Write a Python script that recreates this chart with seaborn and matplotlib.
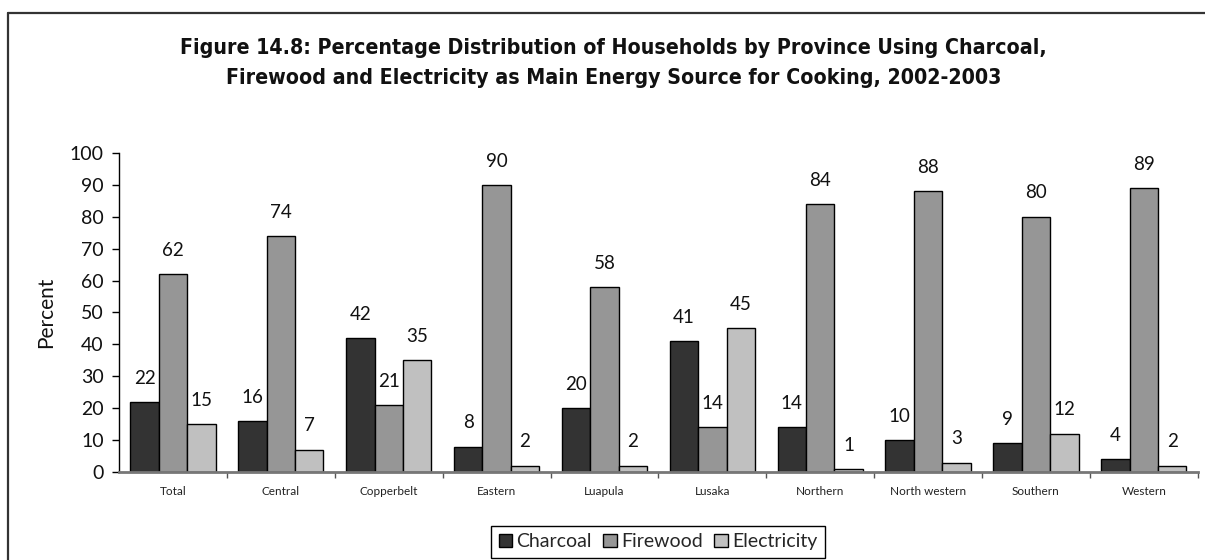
import matplotlib
matplotlib.use("Agg")
import matplotlib.pyplot as plt
from matplotlib.lines import Line2D
import pandas as pd
import seaborn as sns

provinces = ["Total", "Central", "Copperbelt", "Eastern", "Luapula", "Lusaka",
             "Northern", "North western", "Southern", "Western"]
charcoal = [22, 16, 42, 8, 20, 41, 14, 10, 9, 4]
firewood = [62, 74, 21, 90, 58, 14, 84, 88, 80, 89]
electricity = [15, 7, 35, 2, 2, 45, 1, 3, 12, 2]
sources = ["Charcoal", "Firewood", "Electricity"]
colors = ["#333333", "#969696", "#c0c0c0"]

df = pd.DataFrame({
    "Province": provinces * 3,
    "Source": [s for s in sources for _ in provinces],
    "Percent": charcoal + firewood + electricity,
})

sns.set_theme(style="white")
plt.rcParams["font.family"] = ["Lato", "DejaVu Sans"]

fig = plt.figure(figsize=(12.05, 5.6), dpi=100)
ax = fig.add_axes([0.0988, 0.157, 0.8952, 0.570])

sns.barplot(data=df, x="Province", y="Percent", hue="Source", order=provinces,
            hue_order=sources, palette=colors, edgecolor="black", linewidth=1.0,
            width=0.79, gap=0, saturation=1, ax=ax, legend=True)

for cont in ax.containers:
    ax.bar_label(cont, fmt="%d", padding=11, fontsize=13.5, color="#111111")

ax.set_xlim(-0.5, len(provinces) - 0.5)
ax.set_ylim(0, 100)
ax.set_yticks(range(0, 101, 10))
ax.tick_params(axis="y", labelsize=14, direction="out", length=5, width=1,
               color="black", left=True, pad=6, labelcolor="#111111")
ax.tick_params(axis="x", which="major", labelsize=8.5, length=0, pad=10,
               labelcolor="#222222")
ax.set_xticks([i + 0.5 for i in range(len(provinces))], minor=True)
ax.tick_params(axis="x", which="minor", direction="out", length=4, width=1,
               color="#555555", bottom=True)
ax.set_xlabel("")
ax.set_ylabel("Percent", fontsize=15, labelpad=10, color="#111111")
for s in ("top", "right"):
    ax.spines[s].set_visible(False)
ax.spines["left"].set_color("black")
ax.spines["left"].set_linewidth(1.0)
ax.spines["bottom"].set_color("#777777")
ax.spines["bottom"].set_linewidth(2.0)

handles, labels = ax.get_legend_handles_labels()
ax.get_legend().remove()
fig.legend(handles, labels, loc="lower center", bbox_to_anchor=(0.546, 0.0),
           ncol=3, fontsize=14, frameon=True, fancybox=False, edgecolor="black",
           framealpha=1, handlelength=0.7, handleheight=0.7, handletextpad=0.2,
           columnspacing=0.6, borderpad=0.4, borderaxespad=0.1)

fig.text(0.509, 0.8875,
         "Figure 14.8: Percentage Distribution of Households by Province Using Charcoal,\n"
         "Firewood and Electricity as Main Energy Source for Cooking, 2002-2003",
         ha="center", va="center", fontsize=15.3, fontweight="bold",
         fontstretch="condensed", linespacing=1.62, color="#111111",
         family=["DejaVu Sans", "Liberation Sans"])

# frame lines along the left and top edges of the figure
fig.add_artist(Line2D([0.0066, 0.0066], [0.0, 0.977], transform=fig.transFigure,
                      color="#333333", linewidth=1.6))
fig.add_artist(Line2D([0.0066, 1.0], [0.977, 0.977], transform=fig.transFigure,
                      color="#333333", linewidth=1.6))

fig.savefig("out.png", dpi=100)
